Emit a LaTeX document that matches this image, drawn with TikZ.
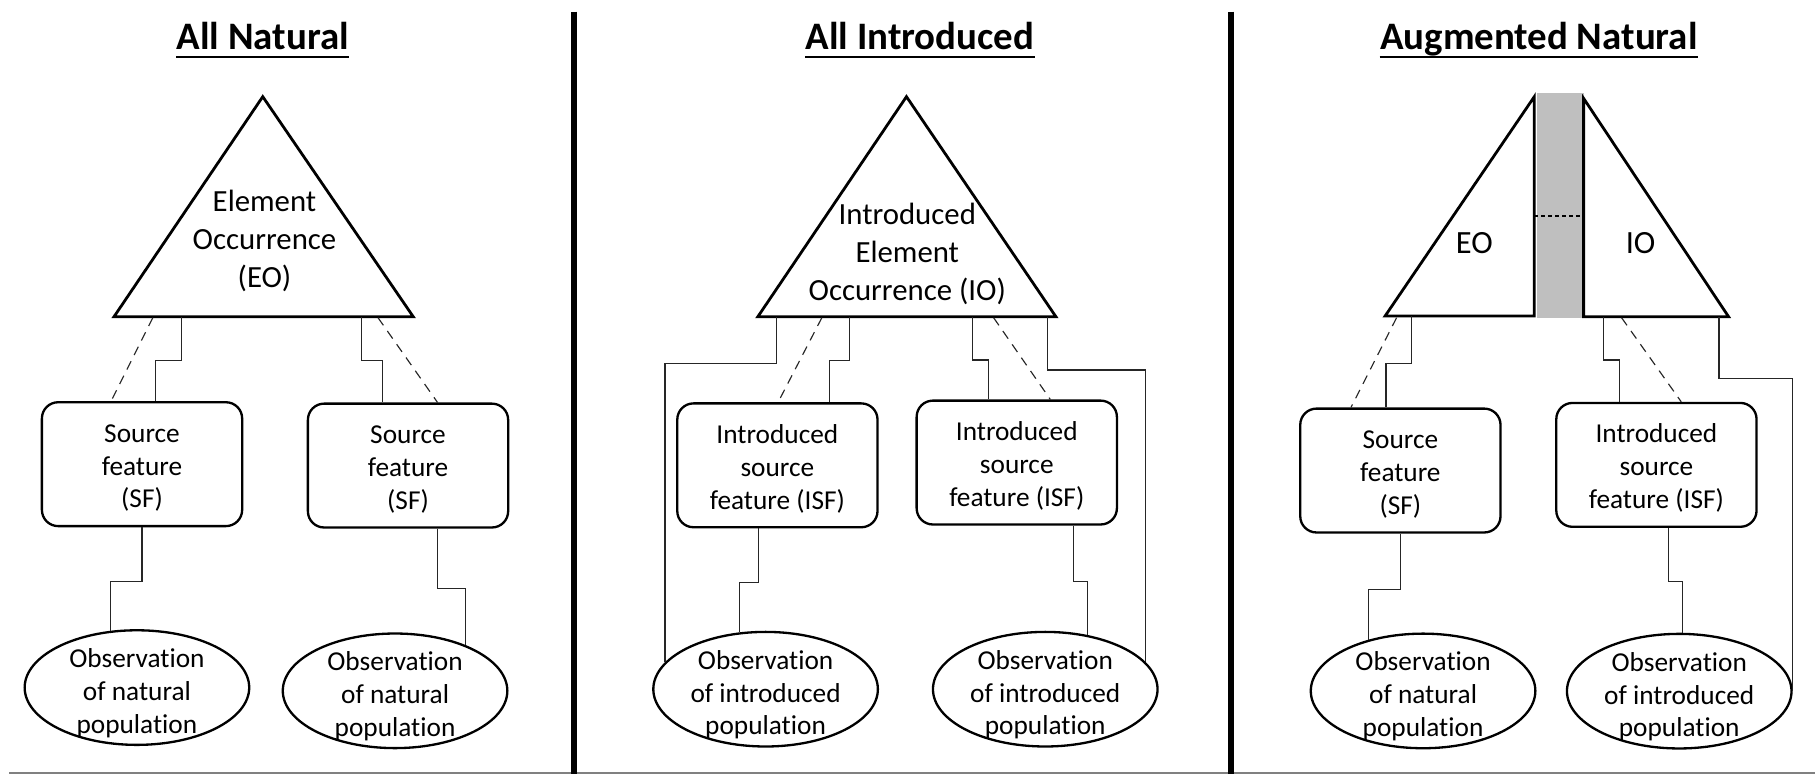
\documentclass[tikz,border=0pt]{standalone}
\usepackage{fontspec}
\setmainfont{Carlito}[Ligatures=NoCommon]
\usetikzlibrary{shapes.geometric}

% invisible struts that push the first line down a little
\newcommand{\boxtop}{\rule{0pt}{11pt}}
\newcommand{\obstop}{\rule{0pt}{13pt}}

\tikzset{
    frame/.style={line width=1.2pt, line join=miter},
    sfbox/.style={draw, line width=1pt, rounded corners=7pt, minimum width=86.5pt, minimum height=53.5pt,
        align=center, font=\fontsize{11.8}{14.2}\selectfont},
    obs/.style={draw, ellipse, line width=1pt, minimum width=97pt, minimum height=49.5pt,
        inner xsep=0pt, inner ysep=-6pt, align=center, font=\fontsize{11.8}{14.2}\selectfont},
    link/.style={line width=0.5pt, black!85},
    guess/.style={link, dash pattern=on 4pt off 3pt},
    heading/.style={inner sep=0pt, anchor=base, font=\fontsize{16.8}{20}\selectfont\bfseries},
    uline/.style={line width=0.9pt},
    eotext/.style={align=center, font=\fontsize{13.3}{16.5}\selectfont},
}

\begin{document}
\begin{tikzpicture}[x=0.5pt, y=-0.5pt]
    \useasboundingbox (0,0) rectangle (1568,669);

    % Draw the panel dividers and the bottom rule
    \draw[black!50, line width=0.7pt] (8,668) -- (1568,668);
    \foreach \x in {496,1063.2} {
        \draw[line width=2.6pt] (\x,10) -- (\x,669);
    }

    % --- Headings ---
    \node[heading] (hdA) at (227,43) {All Natural};
    \node[heading] (hdB) at (794.7,43) {All Introduced};
    \node[heading] (hdC) at (1329.4,43) {Augmented Natural};
    \foreach \h in {hdA,hdB,hdC} {
        \draw[uline] ([yshift=-3.2pt]\h.base west) -- ([yshift=-3.2pt]\h.base east);
    }

    % --- All Natural ---
    \draw[frame] (98.5,273.6) -- (227,83.5) -- (357,273.6) -- cycle;
    \node[eotext] (eoA) at (228.5,208) {Element\\Occurrence\\(EO)};
    \coordinate (eoA1) at (132,274.5);
    \coordinate (eoA2) at (157,273.6);
    \coordinate (eoA3) at (312,273.6);
    \coordinate (eoA4) at (326.6,274.5);

    \node[sfbox] (sfA1) at (122.7,401) {\boxtop Source\\feature\\(SF)};
    \node[sfbox] (sfA2) at (352.5,402.2) {\boxtop Source\\feature\\(SF)};
    \node[obs] (obA1) at (118.3,594) {\obstop Observation\\of natural\\population};
    \node[obs] (obA2) at (341.3,596.8) {\obstop Observation\\of natural\\population};

    \draw[guess] (eoA1) -- (sfA1.north -| 96,0);
    \draw[link] (eoA2) -- ++(0,37.5) -| (sfA1.north -| 134,0);
    \draw[link] (eoA3) -- ++(0,37.5) -| (sfA2.north -| 330.6,0);
    \draw[guess] (eoA4) -- (sfA2.north -| 378,0);
    \draw[link] (sfA1.south) -- ++(0,46.5) -| (obA1.115);
    \draw[link] (sfA2.south -| 378,0) -- ++(0,52) -| (obA2.33);

    % --- All Introduced ---
    \draw[frame] (654.7,273.6) -- (783.1,83.5) -- (912.2,273.6) -- cycle;
    \node[eotext] (ioB) at (783.8,219.5) {Introduced\\Element\\Occurrence (IO)};
    \coordinate (ioB1) at (671.1,273.6);
    \coordinate (ioB2) at (710,274.5);
    \coordinate (ioB3) at (733.6,273.6);
    \coordinate (ioB4) at (840.2,273.6);
    \coordinate (ioB5) at (858.4,274.5);
    \coordinate (ioB6) at (904.9,273.6);

    \node[sfbox] (isfB1) at (671.6,402) {\boxtop Introduced\\source\\feature (ISF)};
    \node[sfbox] (isfB2) at (878.4,399.6) {\boxtop Introduced\\source\\feature (ISF)};
    \node[obs] (obB1) at (661.4,595.4) {\obstop Observation\\of introduced\\population};
    \node[obs] (obB2) at (903,595.4) {\obstop Observation\\of introduced\\population};

    \draw[link] (ioB1) -- ++(0,40.4) -| (obB1.165);
    \draw[guess] (ioB2) -- (isfB1.north -| 672.2,0);
    \draw[link] (ioB3) -- ++(0,38) -| (isfB1.north -| 716.5,0);
    \draw[link] (ioB4) -- ++(0,37.4) -| (isfB2.north -| 854,0);
    \draw[guess] (ioB5) -- (isfB2.north -| 907.4,0);
    \draw[link] (ioB6) -- ++(0,46.1) -| (obB2.15);
    \draw[link] (isfB1.south -| 655.4,0) -- ++(0,47) -| (obB1.115);
    \draw[link] (isfB2.south -| 927.4,0) -- ++(0,48.6) -| (obB2.52);

    % --- Augmented Natural ---
    % grey gap between the two halves
    \fill[black!25] (1327.8,80.6) rectangle (1368.1,275);
    \draw[frame] (1196.6,273) -- (1325.5,83.5) -- (1325.5,273) -- cycle;
    \draw[frame] (1368.1,85) -- (1493.3,273.6) -- (1368.1,273.6) -- cycle;
    \draw[line width=0.6pt, dash pattern=on 1.6pt off 1.4pt] (1325.5,186.6) -- (1368.1,186.6);
    \node[font=\fontsize{14}{17}\selectfont] (eoC) at (1273.7,210) {EO};
    \node[font=\fontsize{14}{17}\selectfont] (ioC) at (1417.3,210) {IO};
    \coordinate (eoC1) at (1206.5,274.5);
    \coordinate (eoC2) at (1219.6,273);
    \coordinate (ioC1) at (1385.1,273.6);
    \coordinate (ioC2) at (1400.9,274.5);
    \coordinate (ioC3) at (1485.1,273.6);

    \node[sfbox] (sfC1) at (1209.8,406.5) {\boxtop Source\\feature\\(SF)};
    \node[sfbox] (isfC2) at (1431,401.6) {\boxtop Introduced\\source\\feature (ISF)};
    \node[obs] (obC1) at (1229.4,596.9) {\obstop Observation\\of natural\\population};
    \node[obs] (obC2) at (1450.7,597.1) {\obstop Observation\\of introduced\\population};

    \draw[guess] (eoC1) -- (sfC1.north -| 1167.1,0);
    \draw[link] (eoC2) -- ++(0,41) -| (sfC1.north -| 1197.3,0);
    \draw[link] (ioC1) -- ++(0,37.4) -| (isfC2.north -| 1399.2,0);
    \draw[guess] (ioC2) -- (isfC2.north -| 1452.4,0);
    \draw[link] (ioC3) -- ++(0,53.3) -| (obC2.east);
    \draw[link] (sfC1.south) -- ++(0,48.3) -| (obC1.137);
    \draw[link] (isfC2.south -| 1441.5,0) -- ++(0,46) -| (obC2.87);
\end{tikzpicture}
\end{document}
